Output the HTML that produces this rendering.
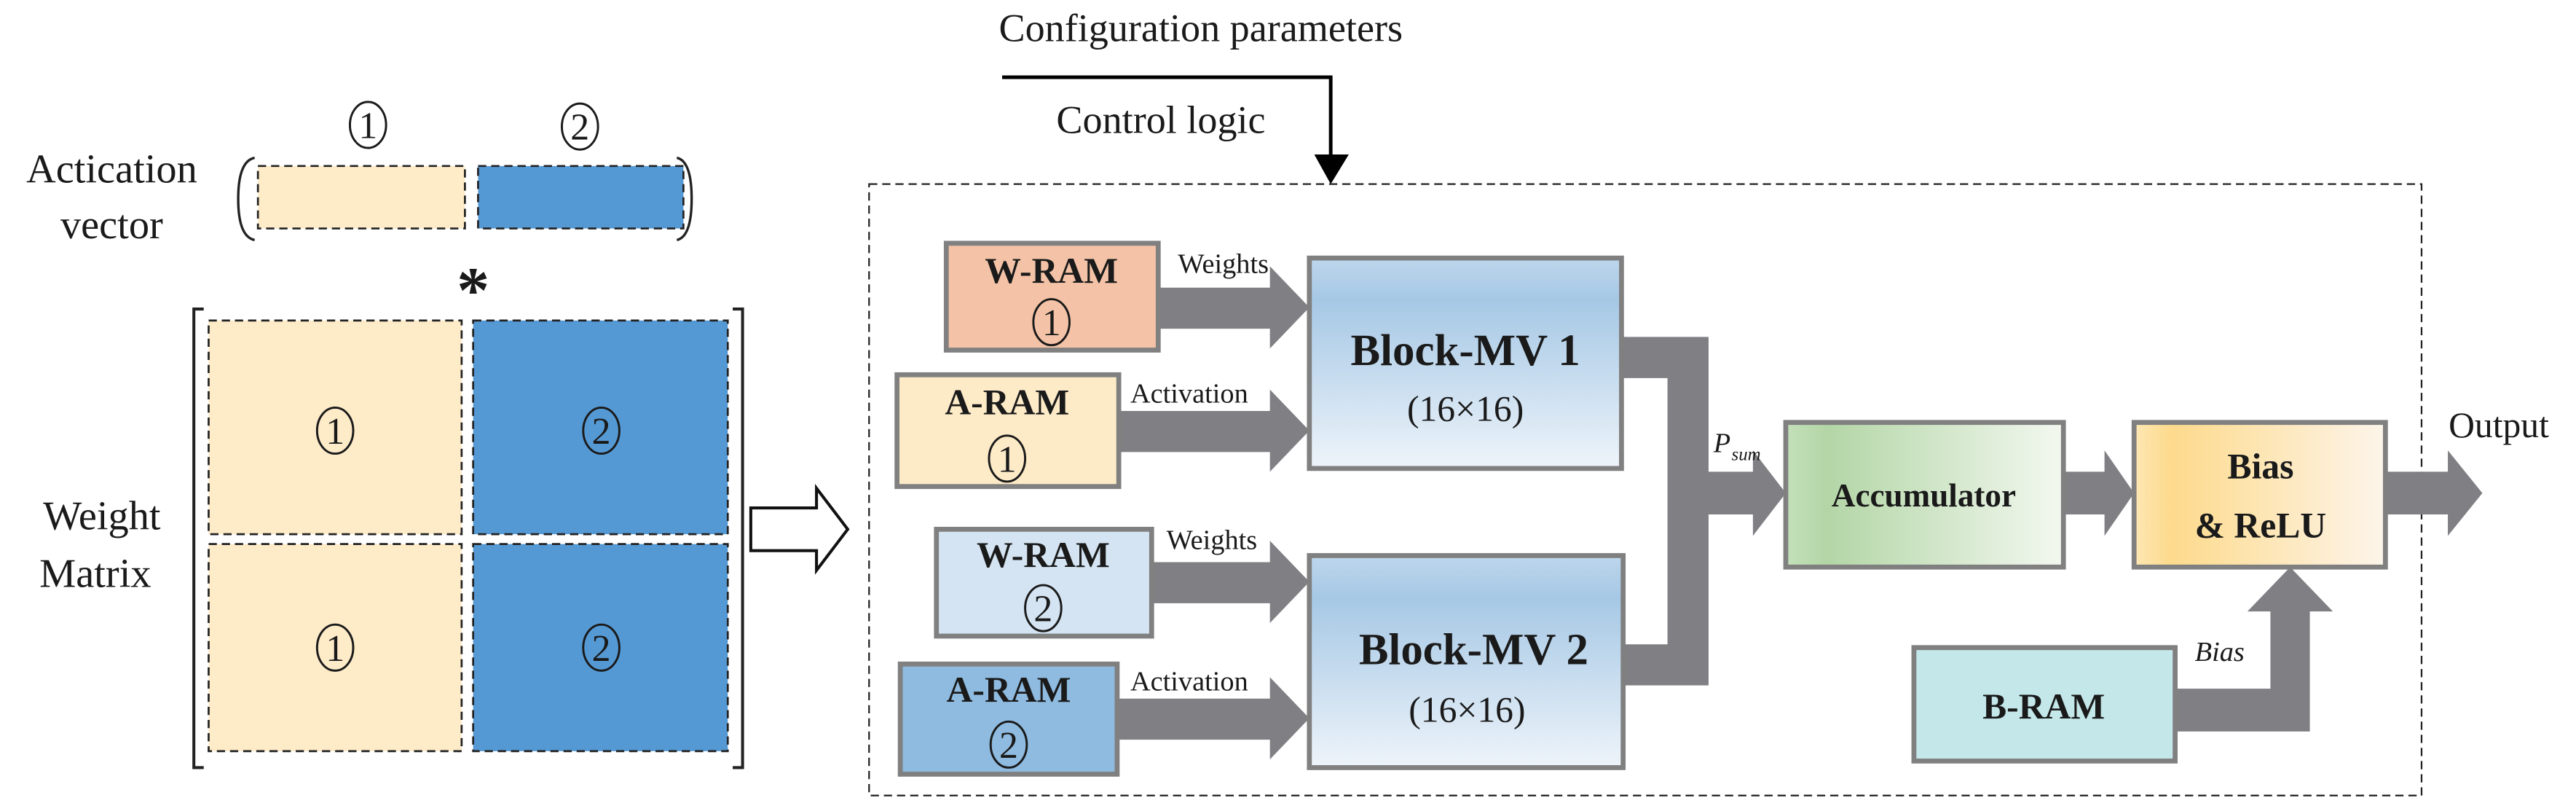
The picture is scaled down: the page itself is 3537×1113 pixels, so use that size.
<!DOCTYPE html>
<html><head><meta charset="utf-8"><style>
html,body{margin:0;padding:0;background:#fff;}
svg{display:block;}
text{font-family:"Liberation Serif","DejaVu Serif",serif;fill:#1a1a1a;}
.b{font-weight:bold;}
</style></head><body>
<svg width="3537" height="1113" viewBox="0 0 1568 493.4" preserveAspectRatio="none" xmlns="http://www.w3.org/2000/svg">
<defs>
<linearGradient id="mv" x1="0" y1="0" x2="0" y2="1">
<stop offset="0" stop-color="#bdd6ec"/><stop offset="0.2" stop-color="#a6c8e5"/><stop offset="1" stop-color="#eef4fa"/>
</linearGradient>
<linearGradient id="acc" x1="0" y1="0" x2="1" y2="0">
<stop offset="0" stop-color="#c4e0ba"/><stop offset="0.15" stop-color="#b3d6a6"/><stop offset="1" stop-color="#f3f8f0"/>
</linearGradient>
<linearGradient id="bias" x1="0" y1="0" x2="1" y2="0">
<stop offset="0" stop-color="#fde7b4"/><stop offset="0.15" stop-color="#fdda8c"/><stop offset="1" stop-color="#fdf5eb"/>
</linearGradient>
<g id="c1"><ellipse cx="0" cy="0" rx="11" ry="14" fill="none" stroke="#1a1a1a" stroke-width="1.3"/><text x="0" y="8" font-size="23" text-anchor="middle">1</text></g>
<g id="c2"><ellipse cx="0" cy="0" rx="11" ry="14" fill="none" stroke="#1a1a1a" stroke-width="1.3"/><text x="0" y="8" font-size="23" text-anchor="middle">2</text></g>
</defs>

<!-- Left part -->
<text x="68" y="111" font-size="25" text-anchor="middle">Actication</text>
<text x="68" y="145" font-size="25" text-anchor="middle">vector</text>
<use href="#c1" x="224" y="76"/>
<use href="#c2" x="353" y="77"/>
<path d="M155,96 Q145,98 145,121 Q145,144 155,146" fill="none" stroke="#222" stroke-width="1.5"/>
<path d="M412,96 Q421,98 421,121 Q421,144 412,146" fill="none" stroke="#222" stroke-width="1.5"/>
<rect x="157" y="101" width="126" height="38" fill="#feebc8" stroke="#222" stroke-width="1.2" stroke-dasharray="5,3"/>
<rect x="291" y="101" width="125" height="38" fill="#5599d4" stroke="#222" stroke-width="1.2" stroke-dasharray="5,3"/>
<text x="288" y="190" font-size="40" text-anchor="middle" class="b">*</text>

<path d="M124,188 H118 V467 H124" fill="none" stroke="#222" stroke-width="1.8"/>
<path d="M446,188 H452 V467 H446" fill="none" stroke="#222" stroke-width="1.8"/>
<rect x="127" y="195" width="154" height="130" fill="#feebc8" stroke="#222" stroke-width="1.2" stroke-dasharray="5,3"/>
<rect x="288" y="195" width="155" height="130" fill="#5599d4" stroke="#222" stroke-width="1.2" stroke-dasharray="5,3"/>
<rect x="127" y="331" width="154" height="126" fill="#feebc8" stroke="#222" stroke-width="1.2" stroke-dasharray="5,3"/>
<rect x="288" y="331" width="155" height="126" fill="#5599d4" stroke="#222" stroke-width="1.2" stroke-dasharray="5,3"/>
<use href="#c1" x="204" y="262"/>
<use href="#c2" x="366" y="262"/>
<use href="#c1" x="204" y="394"/>
<use href="#c2" x="366" y="394"/>
<text x="62" y="322" font-size="25" text-anchor="middle">Weight</text>
<text x="58" y="357" font-size="25" text-anchor="middle">Matrix</text>
<path d="M457,309 H497 V297 L516,322 L497,347 V335 H457 Z" fill="#fff" stroke="#111" stroke-width="1.8"/>

<!-- Control -->
<text x="608" y="25" font-size="24">Configuration parameters</text>
<text x="643" y="81" font-size="24">Control logic</text>
<path d="M610,47 H810 V96" fill="none" stroke="#000" stroke-width="2.2"/>
<path d="M800,94 H821 L810,112 Z" fill="#000"/>
<rect x="529" y="112" width="945" height="372" fill="none" stroke="#222" stroke-width="1" stroke-dasharray="5,3"/>

<!-- Arrows -->
<g fill="#807f84">
<path d="M705,175 H773 V162 L797,187 L773,212 V200 H705 Z"/>
<path d="M681,250 H773 V237 L797,262 L773,287 V275 H681 Z"/>
<path d="M701,342 H773 V329 L797,354 L773,379 V367 H701 Z"/>
<path d="M680,425 H773 V412 L797,437 L773,462 V450 H680 Z"/>
<path d="M987,205 H1040 V287 H1067 V274 L1087,300 L1067,326 V313 H1040 V417 H988 V392 H1015 V230 H987 Z"/>
<path d="M1256,287 H1281 V274 L1299,300 L1281,326 V313 H1256 Z"/>
<path d="M1452,287 H1490 V274 L1511,300 L1490,326 V313 H1452 Z"/>
<path d="M1324,419 H1382 V372 H1368 L1394,345 L1420,372 H1406 V445 H1324 Z"/>
</g>
<text x="717" y="166" font-size="17">Weights</text>
<text x="688" y="245" font-size="17">Activation</text>
<text x="710" y="334" font-size="17">Weights</text>
<text x="688" y="420" font-size="17">Activation</text>
<text x="1043" y="275" font-size="17" font-style="italic">P</text>
<text x="1054" y="280" font-size="11" font-style="italic">sum</text>
<text x="1336" y="402" font-size="17" font-style="italic">Bias</text>

<!-- Boxes -->
<g stroke="#808080" stroke-width="3">
<rect x="576" y="148" width="129" height="65" fill="#f4c3a7"/>
<rect x="546" y="228" width="135" height="68" fill="#fdebc8"/>
<rect x="570" y="322" width="131" height="65" fill="#d4e4f2"/>
<rect x="548" y="404" width="132" height="67" fill="#8ebbdf"/>
<rect x="797" y="157" width="190" height="128" fill="url(#mv)"/>
<rect x="797" y="338" width="191" height="129" fill="url(#mv)"/>
<rect x="1087" y="257" width="169" height="88" fill="url(#acc)"/>
<rect x="1299" y="257" width="153" height="88" fill="url(#bias)"/>
<rect x="1165" y="394" width="159" height="69" fill="#c4e7ea"/>
</g>
<g class="b" font-size="22" text-anchor="middle">
<text x="640" y="172">W-RAM</text>
<text x="613" y="252">A-RAM</text>
<text x="635" y="345">W-RAM</text>
<text x="614" y="427">A-RAM</text>
<text x="892" y="222" font-size="27">Block-MV 1</text>
<text x="897" y="404" font-size="27">Block-MV 2</text>
<text x="1171" y="308" font-size="20">Accumulator</text>
<text x="1376" y="291">Bias</text>
<text x="1376" y="327">&amp; ReLU</text>
<text x="1244" y="437">B-RAM</text>
</g>
<use href="#c1" x="640" y="196"/>
<use href="#c1" x="613" y="279"/>
<use href="#c2" x="635" y="370"/>
<use href="#c2" x="614" y="453"/>
<text x="892" y="256" font-size="22" text-anchor="middle">(16×16)</text>
<text x="893" y="439" font-size="22" text-anchor="middle">(16×16)</text>
<text x="1521" y="266" font-size="22" text-anchor="middle">Output</text>
</svg>
</body></html>
